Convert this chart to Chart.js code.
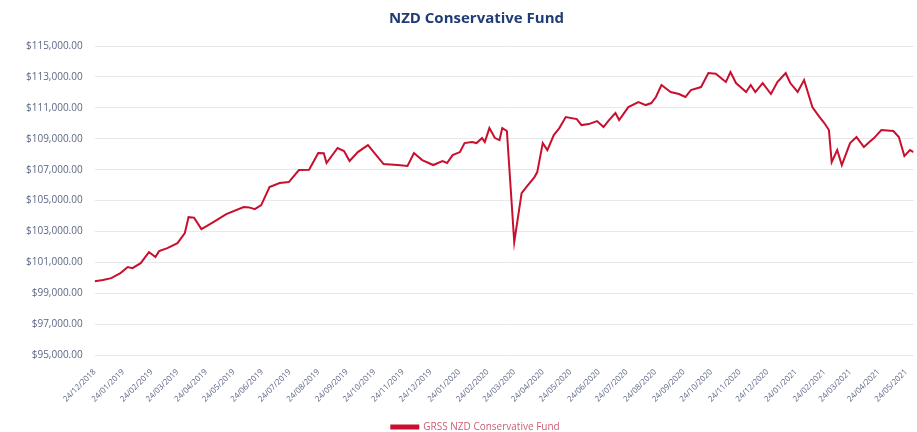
<!DOCTYPE html>
<html>
<head>
<meta charset="utf-8">
<script src="https://cdn.jsdelivr.net/npm/chart.js@4.4.1/dist/chart.umd.min.js"></script>
<style>
  html, body { margin: 0; padding: 0; background: #ffffff; }
  #wrap { width: 917px; height: 432px; }
</style>
</head>
<body>
<div id="wrap"><canvas id="fundChart" width="917" height="432"></canvas></div>
<script>
const chartTitle = "NZD Conservative Fund";
const seriesName = "GRSS NZD Conservative Fund";

// unit price history, dd/mm/yyyy
const priceDates = [
  "24/12/2018", "02/01/2019", "11/01/2019", "21/01/2019", "29/01/2019", "03/02/2019", "12/02/2019", "21/02/2019", "28/02/2019", "04/03/2019",
  "13/03/2019", "24/03/2019", "01/04/2019", "05/04/2019", "11/04/2019", "19/04/2019", "02/05/2019", "16/05/2019", "04/06/2019", "10/06/2019",
  "16/06/2019", "23/06/2019", "02/07/2019", "13/07/2019", "23/07/2019", "03/08/2019", "14/08/2019", "24/08/2019", "30/08/2019", "02/09/2019",
  "14/09/2019", "21/09/2019", "27/09/2019", "06/10/2019", "17/10/2019", "03/11/2019", "18/11/2019", "29/11/2019", "06/12/2019", "15/12/2019",
  "27/12/2019", "06/01/2020", "11/01/2020", "17/01/2020", "25/01/2020", "30/01/2020", "07/02/2020", "12/02/2020", "18/02/2020", "21/02/2020",
  "26/02/2020", "03/03/2020", "08/03/2020", "11/03/2020", "16/03/2020", "24/03/2020", "01/04/2020", "07/04/2020", "15/04/2020", "18/04/2020",
  "24/04/2020", "29/04/2020", "06/05/2020", "12/05/2020", "19/05/2020", "31/05/2020", "05/06/2020", "13/06/2020", "22/06/2020", "29/06/2020",
  "05/07/2020", "12/07/2020", "16/07/2020", "26/07/2020", "06/08/2020", "14/08/2020", "20/08/2020", "25/08/2020", "31/08/2020", "10/09/2020",
  "19/09/2020", "26/09/2020", "02/10/2020", "13/10/2020", "21/10/2020", "29/10/2020", "09/11/2020", "14/11/2020", "20/11/2020", "01/12/2020",
  "06/12/2020", "11/12/2020", "19/12/2020", "28/12/2020", "04/01/2021", "13/01/2021", "18/01/2021", "26/01/2021", "02/02/2021", "11/02/2021",
  "18/02/2021", "24/02/2021", "01/03/2021", "04/03/2021", "10/03/2021", "15/03/2021", "24/03/2021", "31/03/2021", "08/04/2021", "14/04/2021",
  "19/04/2021", "27/04/2021", "10/05/2021", "16/05/2021", "22/05/2021", "28/05/2021", "01/06/2021"
];

const fundValues = [
  99790, 99860, 99985, 100310, 100700, 100630, 100955, 101670, 101345, 101730,
  101925, 102250, 102900, 103930, 103900, 103155, 103610, 104125, 104580, 104560,
  104450, 104710, 105875, 106135, 106200, 106975, 106990, 108075, 108060, 107430,
  108400, 108205, 107560, 108140, 108590, 107365, 107300, 107235, 108075, 107620,
  107300, 107560, 107430, 107945, 108140, 108720, 108785, 108720, 109045, 108785,
  109690, 109045, 108915, 109690, 109500, 102315, 105485, 105940, 106520, 106845,
  108720, 108270, 109240, 109690, 110405, 110275, 109885, 109950, 110145, 109760,
  110210, 110665, 110210, 111050, 111375, 111180, 111310, 111700, 112475, 112025,
  111895, 111700, 112150, 112345, 113250, 113200, 112670, 113315, 112605, 112025,
  112475, 112020, 112605, 111895, 112670, 113250, 112605, 112025, 112800, 111050,
  110470, 110015, 109565, 107490, 108270, 107300, 108720, 109110, 108465, 108785,
  109045, 109565, 109500, 109110, 107880, 108270, 108140
];

const monthTicks = [
  "24/12/2018", "24/01/2019", "24/02/2019", "24/03/2019", "24/04/2019", "24/05/2019",
  "24/06/2019", "24/07/2019", "24/08/2019", "24/09/2019", "24/10/2019", "24/11/2019",
  "24/12/2019", "24/01/2020", "24/02/2020", "24/03/2020", "24/04/2020", "24/05/2020",
  "24/06/2020", "24/07/2020", "24/08/2020", "24/09/2020", "24/10/2020", "24/11/2020",
  "24/12/2020", "24/01/2021", "24/02/2021", "24/03/2021", "24/04/2021", "24/05/2021"
];

const yMin = 95000;
const yMax = 115000;
const yStep = 2000;

(() => {
  if (typeof Chart === "undefined") {
    return;
  }

  const toUtc = (s) => {
    const [d, m, y] = s.split("/").map(Number);
    return Date.UTC(y, m - 1, d);
  };
  const startUtc = toUtc(priceDates[0]);
  const dayOf = (s) => Math.round((toUtc(s) - startUtc) / 86400000);

  const points = priceDates.map((d, i) => ({ x: dayOf(d), y: fundValues[i] }));
  const tickDays = monthTicks.map(dayOf);

  const money = (v) =>
    "$" + Number(v).toLocaleString("en-US", { minimumFractionDigits: 2, maximumFractionDigits: 2 });

  const axisText = "#5c6784";

  // centre title and legend over the plot rather than the whole canvas
  const nudgeBlocks = {
    id: "nudgeBlocks",
    afterLayout(chart) {
      const shift = (box, dx) => {
        if (box) {
          box.left += dx;
          box.right += dx;
        }
      };
      shift(chart.titleBlock, 11);
      shift(chart.legend, 10);
    }
  };

  new Chart(document.getElementById("fundChart"), {
    type: "line",
    data: {
      datasets: [
        {
          label: seriesName,
          data: points,
          borderColor: "#c8102e",
          backgroundColor: "#c8102e",
          borderWidth: 2,
          pointRadius: 0,
          tension: 0
        }
      ]
    },
    plugins: [nudgeBlocks],
    options: {
      responsive: false,
      animation: false,
      devicePixelRatio: 1,
      // legend sits partly below the bottom edge
      layout: { padding: { left: 14, right: 0, top: 0, bottom: -10 } },
      plugins: {
        title: {
          display: true,
          text: chartTitle,
          color: "#203c74",
          font: { family: "Open Sans", size: 15, weight: "bold" },
          padding: { top: 10, bottom: 18 }
        },
        legend: {
          position: "bottom",
          labels: {
            color: "#cc5d72",
            font: { family: "Open Sans", size: 10 },
            boxWidth: 27,
            boxHeight: 3,
            padding: 4
          }
        },
        tooltip: { enabled: false }
      },
      scales: {
        x: {
          type: "linear",
          min: 0,
          max: points[points.length - 1].x,
          afterBuildTicks: (axis) => {
            axis.ticks = tickDays.map((v) => ({ value: v }));
          },
          afterFit: (axis) => {
            axis.height += 10;
          },
          ticks: {
            autoSkip: false,
            minRotation: 45,
            maxRotation: 45,
            padding: 4,
            color: axisText,
            font: { family: "Open Sans", size: 8 },
            callback: (v, i) => monthTicks[i]
          },
          grid: { display: false },
          border: { display: false }
        },
        y: {
          min: yMin,
          max: yMax,
          ticks: {
            stepSize: yStep,
            padding: 12,
            color: axisText,
            font: { family: "Open Sans", size: 10 },
            callback: (v) => money(v)
          },
          grid: { color: "#e8e8e8", drawTicks: false },
          border: { display: false }
        }
      }
    }
  });
})();
</script>
</body>
</html>
